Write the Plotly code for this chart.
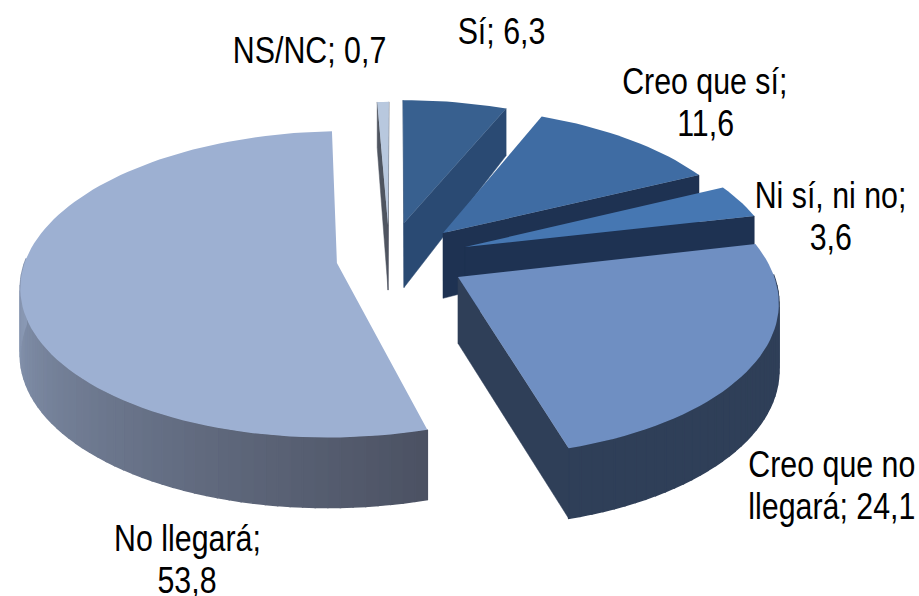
"""Exploded 3D-look pie of survey answers, drawn as projected polygons."""

import math

import plotly.graph_objects as go

# data, clockwise from 12 o'clock
CATEGORIES = ["Sí", "Creo que sí", "Ni sí, ni no", "Creo que no llegará", "No llegará", "NS/NC"]
VALUES = [6.3, 11.6, 3.6, 24.1, 53.8, 0.7]
LABEL_LINES = [
    ["Sí; 6,3"],
    ["Creo que sí;", "11,6"],
    ["Ni sí, ni no;", "3,6"],
    ["Creo que no", "llegará; 24,1"],
    ["No llegará;", "53,8"],
    ["NS/NC; 0,7"],
]

# styling per slice: explode offset (disc radii), top colour, cut face colour, wall colours
EXPLODE = [(0.030, -0.223), (0.158, -0.151), (0.227, -0.054), (0.199, 0.145), (-0.186, 0.054), (-0.023, -0.207)]
TOP_COLORS = ["#38608f", "#3f6ca3", "#4677b2", "#6f8fc2", "#9db0d2", "#b8c8de"]
CUT_COLORS = ["#2a4a73", "#1e3252", "#1e3252", "#2f3f58", "#4c5263", "#4f5560"]
WALL_LIGHT = ["#2a4a73", "#1e3252", "#1e3252", "#2f3f58", "#8c9cb8", "#4f5560"]
WALL_DARK = ["#2a4a73", "#1e3252", "#1e3252", "#2f3f58", "#4c5263", "#4f5560"]
DRAW_ORDER = [5, 0, 1, 2, 4, 3]

# label anchors in page pixels (centre x, centre y of first line)
LABEL_POS = [(501, 31), (705, 81), (830, 195), (832, 464), (187, 538), (309, 50)]
LINE_GAP = 42
FONT_SIZE = 37
TEXT_SQUEEZE = 0.82  # the labels are set tall and narrow

# projection of the disc
CX, CY = 395, 255
SCALE_X, SCALE_Y = 310, 148
PERSPECTIVE = 0.138


def project(x, y, down=False):
    w = 1 / (1 - PERSPECTIVE * y)
    # the wall gets thin quickly towards the back and hardly grows at the front
    thick = min(65 + (y + 0.2) * 19, 65 + (y + 0.2) * 4)
    return CX + SCALE_X * x * w, CY + SCALE_Y * y * w + (thick if down else 0)


def rim_points(offset, start, end):
    steps = max(2, int((end - start) / 2) + 1)
    angles = [start + (end - start) * i / steps for i in range(steps + 1)]
    return angles, [(offset[0] + math.sin(math.radians(a)), offset[1] - math.cos(math.radians(a))) for a in angles]


def mix(c1, c2, t):
    parts = [
        round(int(c1[i:i + 2], 16) * (1 - t) + int(c2[i:i + 2], 16) * t)
        for i in (1, 3, 5)
    ]
    return "rgb({},{},{})".format(*parts)


def polygon(points, color, edge=0.0):
    xs = [p[0] for p in points] + [points[0][0]]
    ys = [p[1] for p in points] + [points[0][1]]
    return go.Scatter(
        x=xs,
        y=ys,
        mode="lines",
        fill="toself",
        fillcolor=color,
        line={"color": color, "width": edge},
        hoverinfo="skip",
        showlegend=False,
    )


def area(points):
    pairs = zip(points, points[1:] + points[:1])
    return sum(a[0] * b[1] - b[0] * a[1] for a, b in pairs)


fig = go.Figure()

total = sum(VALUES)
edges = [0]
for value in VALUES:
    edges.append(edges[-1] + value / total * 360)

for i in DRAW_ORDER:
    start, end = edges[i], edges[i + 1]
    offset = EXPLODE[i]
    angles, rim = rim_points(offset, start, end)

    # outer wall, one strip per step so the shading can change along it
    for j in range(len(rim) - 1):
        # the back of the rim can't be seen, and would peek out from under the top
        if math.cos(math.radians(angles[j])) > 0 and math.cos(math.radians(angles[j + 1])) > 0:
            continue
        a, b = rim[j], rim[j + 1]
        strip = [project(*a), project(*b), project(*b, down=True), project(*a, down=True)]
        # lit towards the left of the disc, in shade at the near right end
        t = min(1, max(0, (angles[j] - 164) / 111))
        fig.add_trace(polygon(strip, mix(WALL_DARK[i], WALL_LIGHT[i], t), edge=1.5))

    # the two cut faces, only when they turn towards the viewer
    for cut, side in ((rim[0], -1), (rim[-1], 1)):
        face = [project(*offset), project(*cut), project(*cut, down=True), project(*offset, down=True)]
        if area(face) * side > 0:
            fig.add_trace(polygon(face, CUT_COLORS[i], edge=0.5))

    top = [project(*offset)] + [project(*p) for p in rim]
    fig.add_trace(polygon(top, TOP_COLORS[i]))

for lines, (x, y) in zip(LABEL_LINES, LABEL_POS):
    for n, line in enumerate(lines):
        fig.add_annotation(
            x=x,
            y=y + n * LINE_GAP,
            text=line,
            showarrow=False,
            font={"family": "Liberation Sans", "size": FONT_SIZE, "color": "#000000"},
        )

fig.update_layout(
    width=919,
    height=596,
    margin={"l": 0, "r": 0, "t": 0, "b": 0},
    paper_bgcolor="#ffffff",
    plot_bgcolor="#ffffff",
)
fig.update_xaxes(range=[0, 919], visible=False)
fig.update_yaxes(range=[596, 0], visible=False)

# the page's default body margin would push the chart 8 px in; no narrow font is
# installed, so the label glyphs are squeezed around their own centre
post_script = f"""
document.body.style.margin = '0';
document.querySelectorAll('.annotation-text').forEach(function (t) {{
    var mid = parseFloat(t.getAttribute('x')) || 0;
    t.setAttribute('transform', 'translate(' + mid * (1 - {TEXT_SQUEEZE}) + ',0) scale({TEXT_SQUEEZE},1)');
}});
"""
fig.write_html("out.html", post_script=post_script, config={"displayModeBar": False})
